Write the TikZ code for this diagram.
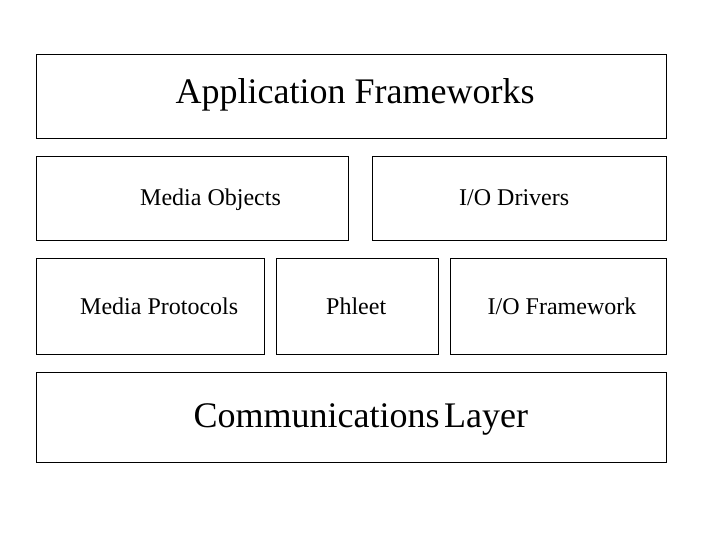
\documentclass[tikz,border=0pt]{standalone}
\usepackage{fontspec}
\setmainfont{Liberation Serif}
\tikzset{
  layer/.style={draw=black, line width=0.9pt},
  small/.style={anchor=base west, inner sep=0pt, font=\fontsize{24}{28}\selectfont},
  big/.style={anchor=base west, inner sep=0pt, font=\fontsize{36}{42}\selectfont},
}
\begin{document}
\begin{tikzpicture}[x=1pt,y=-1pt]
\useasboundingbox (0,0) rectangle (720,540);
\draw[layer] (36.5,54.5) rectangle (666.5,138);
\draw[layer] (36.5,156.5) rectangle (348.5,240);
\draw[layer] (372.5,156.5) rectangle (666.5,240);
\draw[layer] (36.5,258.5) rectangle (264.5,354);
\draw[layer] (276.5,258.5) rectangle (438.5,354);
\draw[layer] (450.5,258.5) rectangle (666.5,354);
\draw[layer] (36.5,372.5) rectangle (666.5,462);
\node[big] (app) at (175.5,103.2) {Application Frameworks};
\node[small] (mo) at (140,205.5) {Media Objects};
\node[small] (iod) at (459,205.5) {I/O Drivers};
\node[small] (mp) at (80,314.2) {Media Protocols};
\node[small] (ph) at (326,314.2) {Phleet};
\node[small] (iof) at (487.5,314.2) {I/O Framework};
\node[big] (comm) at (193.3,427.2) {Communications\hspace{-0.12em} Layer};
\end{tikzpicture}
\end{document}
